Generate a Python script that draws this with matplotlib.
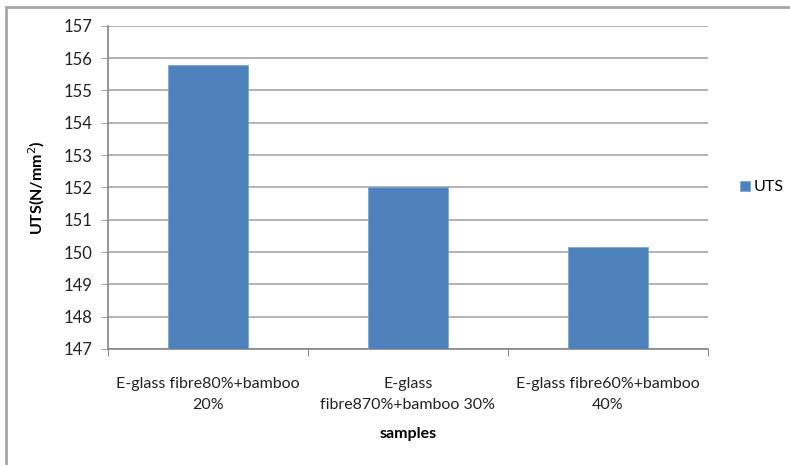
import matplotlib
matplotlib.use("Agg")
from matplotlib import pyplot as plt
from matplotlib.patches import Rectangle

samples = ["E-glass fibre80%+bamboo\n20%",
           "E-glass\nfibre870%+bamboo 30%",
           "E-glass fibre60%+bamboo\n40%"]
uts = [155.78, 152.02, 150.15]
y_ticks = list(range(147, 158))

plt.rcParams['font.family'] = ['Lato', 'DejaVu Sans']

fig = plt.figure(figsize=(7.9, 4.65), dpi=100)
ax = fig.add_axes([0.1367, 0.2495, 0.7595, 0.6952])

positions = list(range(len(samples)))
ax.bar(positions, [v - 147 for v in uts], bottom=147, width=0.4,
       color='#4F81BD', edgecolor='#7EA6D6', linewidth=0.6, zorder=3, label='UTS')

ax.set_ylim(147, 157)
ax.set_xlim(-0.5, 2.5)
ax.set_yticks(y_ticks)
ax.set_yticklabels([str(t) for t in y_ticks], fontsize=12, color='#222222')
ax.yaxis.grid(True, color='#A6A6A6', linewidth=1.2, zorder=0)

ax.set_xticks([-0.5, 0.5, 1.5, 2.5])
ax.set_xticklabels([])
ax.set_xticks(positions, minor=True)
ax.set_xticklabels(samples, minor=True, fontsize=11.5, linespacing=1.65, color='#222222')
ax.tick_params(axis='x', which='major', length=5, color='#868686', direction='out')
ax.tick_params(axis='x', which='minor', length=0, pad=20)
ax.tick_params(axis='y', length=5, color='#A6A6A6', pad=6)

for side in ['top', 'right']:
    ax.spines[side].set_visible(False)
for side in ['left', 'bottom']:
    ax.spines[side].set_color('#868686')
    ax.spines[side].set_linewidth(1.2)

ax.set_ylabel('UTS(N/mm$^2$)', fontsize=11.5, fontweight='bold', labelpad=12)
ax.set_xlabel('samples', fontsize=11.5, fontweight='bold', labelpad=11)

leg = ax.legend(loc='center left', bbox_to_anchor=(1.03, 0.5), frameon=False,
                fontsize=11.5, handlelength=0.6, handleheight=0.6, handletextpad=0.2)

# chart area frame
fig.patches.append(Rectangle((6 / 790, -0.1), 1.2, 1 - 6.5 / 465 + 0.1,
                             transform=fig.transFigure, fill=False,
                             edgecolor='#A6A6A6', linewidth=2))

fig.savefig('out.png', dpi=100)
